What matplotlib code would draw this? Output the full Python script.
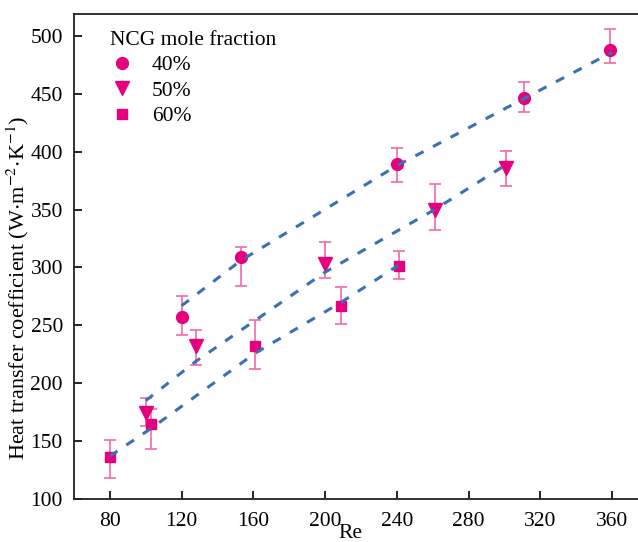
import matplotlib
matplotlib.use("Agg")
import matplotlib.pyplot as plt

plt.rcParams['font.family'] = ['Liberation Serif', 'DejaVu Serif']
plt.rcParams['mathtext.fontset'] = 'stix'

# 40 %
re40 = [120, 153, 240, 311, 359]
h40 = [257, 309, 389, 446, 488]
lo40 = [242, 284, 374, 434, 477]
hi40 = [275, 318, 403, 460, 506]
# 50 %
re50 = [100, 128, 200, 261, 301]
h50 = [174, 232, 303, 350, 386]
lo50 = [163, 216, 291, 332, 370]
hi50 = [187, 246, 322, 372, 401]
# 60 %
re60 = [80, 103, 161, 209, 241]
h60 = [136, 165, 232, 267, 301]
lo60 = [118, 143, 212, 251, 290]
hi60 = [151, 178, 255, 283, 314]

# fitted curves
fx40 = [120, 153, 240, 311, 360]
fy40 = [267, 306, 388, 446, 486]
fx50 = [100, 128, 200, 261, 300]
fy50 = [185, 219, 296, 350, 388]
fx60 = [80, 103, 161, 209, 241]
fy60 = [137, 161, 226, 270, 302]

labels = ['40%', '50%', '60%']
markers = ['o', 'v', 's']

fig = plt.figure(figsize=(6.38, 5.42), dpi=100)
ax = fig.add_axes([74/638, 43/542, 574/638, 485/542])

mcol = '#E6007E'
ecol = '#F06AAA'
lcol = '#3A70B5'

data = [(re40, h40, lo40, hi40), (re50, h50, lo50, hi50), (re60, h60, lo60, hi60)]
for (x, y, lo, hi), lab, mk in zip(data, labels, markers):
    yerr = [[yy - l for yy, l in zip(y, lo)], [h - yy for yy, h in zip(y, hi)]]
    ax.errorbar(x, y, yerr=yerr, fmt='none', ecolor=ecol, elinewidth=1.2,
                capsize=4, capthick=1.2, zorder=2)
    ms = {'o': 8.5, 'v': 9.5, 's': 7.5}[mk]
    ax.plot(x, y, linestyle='none', marker=mk, color=mcol, markersize=ms,
            label=lab, zorder=3)

for fx, fy in [(fx40, fy40), (fx50, fy50), (fx60, fy60)]:
    ax.plot(fx, fy, linestyle=(0, (3, 3.5)), color=lcol, linewidth=2.2, zorder=4)

ax.set_xlim(60, 380)
ax.set_ylim(100, 519)
ax.set_xticks([80, 120, 160, 200, 240, 280, 320, 360])
ax.set_yticks([100, 150, 200, 250, 300, 350, 400, 450, 500])
ax.tick_params(direction='in', length=6, width=1.2, labelsize=15.5, pad=8)
ax.tick_params(axis='x', pad=9)
ax.spines['right'].set_visible(False)
for s in ax.spines.values():
    s.set_linewidth(1.3)
    s.set_color('#222222')

ax.set_xlabel('Re', fontsize=15.5)
ax.xaxis.set_label_coords(0.481, -0.052)
ax.set_ylabel(r'Heat transfer coefficient (W$\cdot$m$^{-2}$$\cdot$K$^{-1}$)', fontsize=16)
ax.yaxis.set_label_coords(-0.075, 0.435)

leg = ax.legend(title='NCG mole fraction', loc='upper left', frameon=False,
                fontsize=15.5, title_fontsize=15.5, bbox_to_anchor=(0.04, 0.992),
                handlelength=1.1, handletextpad=0.86, labelspacing=0.25,
                alignment='left', borderaxespad=0.2)

fig.savefig('out.png', dpi=100)
